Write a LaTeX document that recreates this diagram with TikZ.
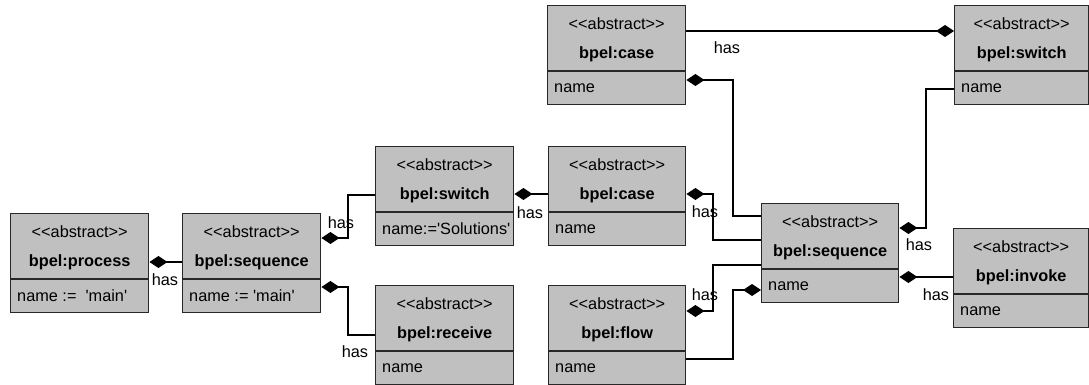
\documentclass[tikz,border=0pt]{standalone}
\usepackage{fontspec}
\setmainfont{Liberation Sans}
\usetikzlibrary{arrows.meta}
\definecolor{boxgray}{RGB}{192,192,192}
\definecolor{boxedge}{RGB}{40,40,40}

\tikzset{
  classbox/.style={draw=boxedge, fill=boxgray, line width=1.4pt, inner sep=0pt,
    minimum height=99pt, anchor=north west},
  divider/.style={draw=boxedge, line width=1.4pt},
  stereo/.style={inner sep=0pt, font=\fontsize{16.3}{19}\selectfont},
  cname/.style={inner sep=0pt, font=\fontsize{16.3}{19}\selectfont\bfseries},
  attr/.style={inner sep=0pt, anchor=west, font=\fontsize{16.3}{19}\selectfont},
  haslabel/.style={inner sep=0pt, font=\fontsize{16.3}{19}\selectfont},
  has/.style={draw=black, line width=1.3pt,
    -{Diamond[length=18pt,width=12pt,fill=black]}},
}

% class box: id, left, top, width, class name, attribute
\newcommand\umlclass[6]{%
  \node[classbox, minimum width=#4pt] (#1) at (#2,#3) {};
  \draw[divider] ([yshift=-66pt]#1.north west) -- ([yshift=-66pt]#1.north east);
  \node[stereo] (#1-st) at ([yshift=-19pt]#1.north) {<{}<abstract>{}>};
  \node[cname] (#1-nm) at ([yshift=-49pt]#1.north) {#5};
  \node[attr] (#1-at) at ([xshift=7pt,yshift=-83pt]#1.north west) {#6};
}

\begin{document}
\begin{tikzpicture}[x=1pt,y=-1pt]
\useasboundingbox (0,0) rectangle (1089,385);

% classes
\umlclass{proc}{10}{213}{138}{bpel:process}{name :=\ \ \textquotesingle main\textquotesingle}
\umlclass{seqa}{182}{213}{138}{bpel:sequence}{name := \textquotesingle main\textquotesingle}
\umlclass{swa}{375}{146}{138}{bpel:switch}{name:=\textquotesingle Solutions\textquotesingle}
\umlclass{recv}{375}{285}{138}{bpel:receive}{name}
\umlclass{casea}{548}{146}{137}{bpel:case}{name}
\umlclass{flow}{548}{285}{137}{bpel:flow}{name}
\umlclass{caseb}{547}{5}{138}{bpel:case}{name}
\umlclass{swb}{954}{5}{134}{bpel:switch}{name}
\umlclass{seqb}{761}{203}{137}{bpel:sequence}{name}
\umlclass{inv}{953}{228}{135}{bpel:invoke}{name}

% composition connectors
\draw[has] (seqa.west |- 0,262) -- (proc.east |- 0,262);
\draw[has] (swa.west |- 0,195) -| (348,238) -- (seqa.east |- 0,238);
\draw[has] (recv.west |- 0,335) -| (348,287) -- (seqa.east |- 0,287);
\draw[has] (casea.west |- 0,194) -- (swa.east |- 0,194);
\draw[has] (seqb.west |- 0,240) -| (713,194) -- (casea.east |- 0,194);
\draw[has] (seqb.west |- 0,216) -| (733,80) -- (caseb.east |- 0,80);
\draw[has] (caseb.east |- 0,31) -- (swb.west |- 0,31);
\draw[has] (swb.west |- 0,89) -| (926,228) -- (seqb.east |- 0,228);
\draw[has] (inv.west |- 0,277) -- (seqb.east |- 0,277);
\draw[has] (seqb.west |- 0,265) -| (713,311) -- (flow.east |- 0,311);
\draw[has] (flow.east |- 0,359) -| (733,290) -- (seqb.west |- 0,290);

% labels
\node[haslabel] (l1) at (165,280) {has};
\node[haslabel] (l2) at (341,223) {has};
\node[haslabel] (l3) at (355,352) {has};
\node[haslabel] (l4) at (530,213) {has};
\node[haslabel] (l5) at (705,212) {has};
\node[haslabel] (l6) at (727,48) {has};
\node[haslabel] (l7) at (919,245) {has};
\node[haslabel] (l8) at (936,295) {has};
\node[haslabel] (l9) at (705,295) {has};
\end{tikzpicture}
\end{document}
